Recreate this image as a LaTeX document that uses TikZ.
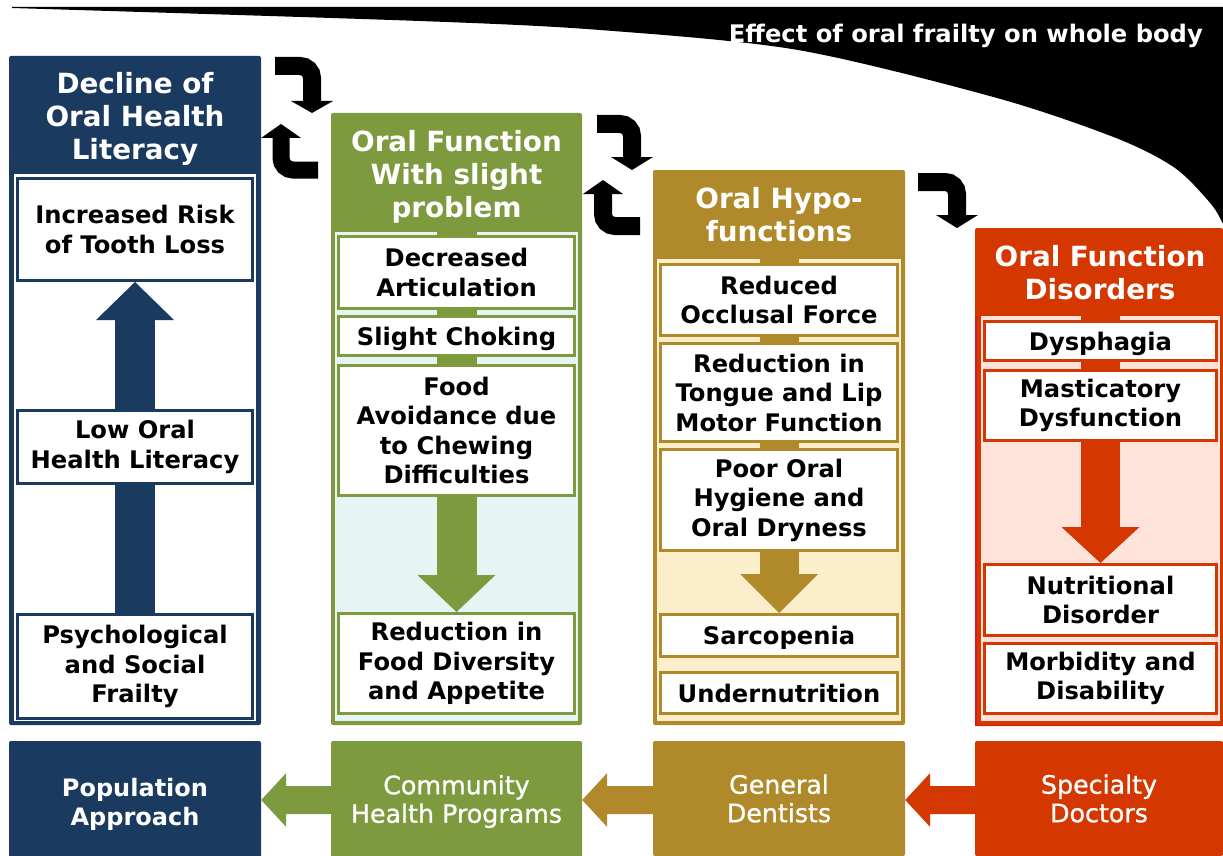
\documentclass[tikz,border=0pt]{standalone}
\usepackage{fontspec}
\setmainfont{DejaVu Sans}
\newfontfamily\midfont{DejaVu Sans}[FakeBold=0.9]
\usetikzlibrary{calc,backgrounds}
\definecolor{navy}{HTML}{1B3A5F}
\definecolor{olive}{HTML}{7E9A3E}
\definecolor{gold}{HTML}{B08A2A}
\definecolor{rust}{HTML}{D43700}
\definecolor{brightred}{HTML}{E3161B}
\definecolor{lcyan}{HTML}{E6F4F4}
\definecolor{lcream}{HTML}{FCEDCB}
\definecolor{lpink}{HTML}{FDE3DA}
\tikzset{
  ibox/.style={draw=#1, line width=3pt, fill=white, align=center, inner sep=0pt,
    font=\bfseries\fontsize{24.2}{29.5}\selectfont, text=black},
  oneline/.style={text height=18pt, text depth=0pt},
  headtxt/.style={align=center, text=white, inner sep=0pt, font=\bfseries\fontsize{27.8}{33}\selectfont},
  botbox/.style={fill=#1, text=white, align=center, inner sep=0pt, rounded corners=2pt,
    minimum height=115pt},
  botbold/.style={font=\bfseries\fontsize{24}{29}\selectfont},
  botreg/.style={font=\midfont\fontsize{25.3}{28.5}\selectfont},
  loopline/.style={line width=18pt, rounded corners=12pt, black},
  loophead/.style={fill=black},
}
\begin{document}
\begin{tikzpicture}[x=1pt,y=-1pt]
\useasboundingbox (0,0) rectangle (1223,856);

% black band at top
\fill[black] (12,7) -- (1223,7) -- (1223,224)
  -- plot[smooth] coordinates {(1223,224) (1211,204) (1175,168) (1116,138) (997,98) (798,50) (600,30) (420,21) (12,8)} -- cycle;
\node[anchor=east, text=white, inner sep=0pt, font=\bfseries\fontsize{24.2}{28}\selectfont] (title) at (1203,36) {Effect of oral frailty on whole body};

% ---------- headers ----------
\node[headtxt] (h1) at (135,119) {Decline of\\Oral Health\\Literacy};
\node[headtxt] (h2) at (456.5,177) {Oral Function\\With slight\\problem};
\node[headtxt] (h3) at (779,215) {Oral Hypo-\\functions};
\node[headtxt] (h4) at (1100,273) {Oral Function\\Disorders};

% ---------- column 1 boxes ----------
\node[ibox=navy, minimum width=235pt, minimum height=102pt] (b1a) at (135,229.5) {Increased Risk\\of Tooth Loss};
\node[ibox=navy, minimum width=235pt, minimum height=73pt] (b1b) at (135,447) {Low Oral\\Health Literacy};
\node[ibox=navy, minimum width=235pt, minimum height=104pt] (b1c) at (135,666.5) {Psychological\\and Social\\Frailty};

% ---------- column 2 boxes ----------
\node[ibox=olive, minimum width=236pt, minimum height=72pt] (b2a) at (456.5,272.5) {Decreased\\Articulation};
\node[ibox=olive, oneline, minimum width=236pt, minimum height=39pt] (b2b) at (456.5,336) {Slight Choking};
\node[ibox=olive, minimum width=236pt, minimum height=130pt] (b2c) at (456.5,430.5) {Food\\Avoidance due\\to Chewing\\Difficulties};
\node[ibox=olive, minimum width=236pt, minimum height=100pt] (b2d) at (456.5,663.5) {Reduction in\\Food Diversity\\and Appetite};

% ---------- column 3 boxes ----------
\node[ibox=gold, minimum width=237pt, minimum height=71pt] (b3a) at (779,300) {Reduced\\Occlusal Force};
\node[ibox=gold, minimum width=237pt, minimum height=98pt] (b3b) at (779,392.5) {Reduction in\\Tongue and Lip\\Motor Function};
\node[ibox=gold, minimum width=237pt, minimum height=101pt] (b3c) at (779,500) {Poor Oral\\Hygiene and\\Oral Dryness};
\node[ibox=gold, oneline, minimum width=237pt, minimum height=42pt] (b3d) at (779,635.5) {Sarcopenia};
\node[ibox=gold, oneline, minimum width=237pt, minimum height=41pt] (b3e) at (779,693) {Undernutrition};

% ---------- column 4 boxes ----------
\node[ibox=rust, oneline, minimum width=232pt, minimum height=39pt] (b4a) at (1100.5,341) {Dysphagia};
\node[ibox=rust, minimum width=232pt, minimum height=70pt] (b4b) at (1100.5,405.5) {Masticatory\\Dysfunction};
\node[ibox=rust, minimum width=232pt, minimum height=71pt] (b4c) at (1100.5,600) {Nutritional\\Disorder};
\node[ibox=rust, minimum width=232pt, minimum height=70pt] (b4d) at (1100.5,678.5) {Morbidity and\\Disability};

% ---------- bottom row ----------
\node[botbox=navy, botbold, minimum width=252pt, minimum height=127pt] (pa) at (135,804.5) {Population\\Approach};
\node[botbox=olive, botreg, minimum width=251pt, minimum height=121pt] (ch) at (456.5,801.5) {Community\\Health Programs};
\node[botbox=gold, botreg, minimum width=252pt] (gd) at (779,798.5) {General\\Dentists};
\node[botbox=rust, botreg, minimum width=248pt] (sd) at (1099,798.5) {Specialty\\Doctors};

\begin{pgfonlayer}{background}
  % column 1
  \fill[navy, rounded corners=2pt] (9,56) rectangle (261,725);
  \fill[white] (14,174) rectangle (256,721);
  \fill[navy] ($(b1c.north)+(-20,0)$) rectangle ($(b1a.south)+(20,38)$);
  \fill[navy] ($(b1a.south)+(-39,38)$) -- ($(b1a.south)+(39,38)$) -- (b1a.south) -- cycle;
  % column 2
  \fill[olive, rounded corners=2pt] (331,113) rectangle (582,725);
  \fill[lcyan] (335,232) rectangle (578,721);
  \fill[olive] (436.5,232) rectangle ($(b2d.north)+(20,-37)$);
  \fill[olive] ($(b2d.north)+(-39,-37)$) -- ($(b2d.north)+(39,-37)$) -- (b2d.north) -- cycle;
  % column 3
  \fill[gold, rounded corners=2pt] (653,170) rectangle (905,725);
  \fill[lcream] (657,259) rectangle (901,721);
  \fill[gold] (759.5,259) rectangle ($(b3d.north)+(19.5,-39)$);
  \fill[gold] ($(b3d.north)+(-39,-39)$) -- ($(b3d.north)+(39,-39)$) -- (b3d.north) -- cycle;
  % column 4
  \fill[rust, rounded corners=2pt] (975,228) rectangle (1223,726);
  \fill[lpink] (981,316) rectangle (1220,721);
  \draw[brightred, line width=1.5pt] (976,316) -- (976,725.5) -- (1223,725.5);
  \fill[rust] (1081,316) rectangle ($(b4c.north)+(19.5,-36)$);
  \fill[rust] ($(b4c.north)+(-39,-36)$) -- ($(b4c.north)+(39,-36)$) -- (b4c.north) -- cycle;
\end{pgfonlayer}

% ---------- bottom arrows (all on one level) ----------
\coordinate (t1) at ($(pa.east)+(0,-4.5)$);
\coordinate (t2) at ($(ch.east)+(0,-1.5)$);
\coordinate (t3) at ($(gd.east)+(0,1.5)$);
\fill[rust] ($(t3-|sd.west)+(0,-14)$) -- ($(t3)+(25,-14)$) -- ($(t3)+(25,-27)$) -- (t3)
  -- ($(t3)+(25,27)$) -- ($(t3)+(25,14)$) -- ($(t3-|sd.west)+(0,14)$) -- cycle;
\fill[gold] ($(t2-|gd.west)+(0,-14)$) -- ($(t2)+(25,-14)$) -- ($(t2)+(25,-27)$) -- (t2)
  -- ($(t2)+(25,27)$) -- ($(t2)+(25,14)$) -- ($(t2-|gd.west)+(0,14)$) -- cycle;
\fill[olive] ($(t1-|ch.west)+(0,-14)$) -- ($(t1)+(25,-14)$) -- ($(t1)+(25,-27)$) -- (t1)
  -- ($(t1)+(25,27)$) -- ($(t1)+(25,14)$) -- ($(t1-|ch.west)+(0,14)$) -- cycle;

% ---------- black loop arrows ----------
\coordinate (k1s) at (275,66);   \coordinate (k1e) at (312,101);
\draw[loopline] (k1s) -| (k1e);
\fill[loophead] ($(k1e)+(-21,0)$) -- ($(k1e)+(21,0)$) -- ($(k1e)+(0,12)$) -- cycle;
\coordinate (k2s) at (318,170);  \coordinate (k2e) at (281,138);
\draw[loopline, line width=17pt] (k2s) -| (k2e);
\fill[loophead] ($(k2e)+(-20,0)$) -- ($(k2e)+(20,0)$) -- ($(k2e)+(0,-14)$) -- cycle;
\coordinate (k3s) at (597,124);  \coordinate (k3e) at (632,158);
\draw[loopline] (k3s) -| (k3e);
\fill[loophead] ($(k3e)+(-21,-1)$) -- ($(k3e)+(21,-1)$) -- ($(k3e)+(0,12)$) -- cycle;
\coordinate (k4s) at (640,226);  \coordinate (k4e) at (603,194);
\draw[loopline] (k4s) -| (k4e);
\fill[loophead] ($(k4e)+(-20,0)$) -- ($(k4e)+(20,0)$) -- ($(k4e)+(0,-14)$) -- cycle;
\coordinate (k5s) at (918,182);  \coordinate (k5e) at (957,216);
\draw[loopline] (k5s) -| (k5e);
\fill[loophead] ($(k5e)+(-21,-1)$) -- ($(k5e)+(21,-1)$) -- ($(k5e)+(0,12)$) -- cycle;
\end{tikzpicture}
\end{document}
